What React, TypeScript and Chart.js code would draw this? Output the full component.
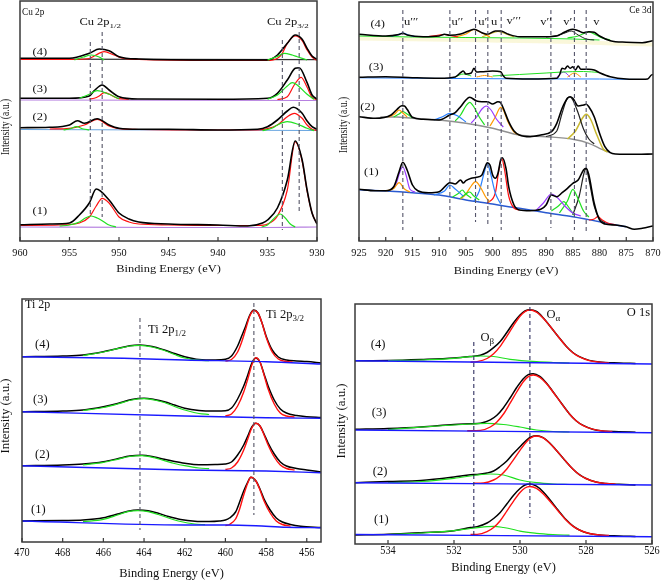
import React, { useEffect, useRef } from 'react';
import { Chart, registerables } from 'chart.js';
Chart.register(...registerables);

type Pt = [number, number];
type Curve = { pts: Pt[]; color: string; width?: number };
type Label = { e: number; i: number; text: string; sub?: string; align?: CanvasTextAlign; size?: number; sx?: number };
type Dash = [number, number, number];

const FONT = '"Liberation Serif", "Times New Roman", serif';
const INK = '#111111';
const BLACK = '#000000';
const RED = '#ff1010';
const GREEN = '#20e020';
const BLUE = '#1a1aff';
const PURPLE = '#b680e0';
const LBLUE = '#6aa6e0';
const ORANGE = '#ff9900';
const VIOLET = '#9a3cff';
const CBLUE = '#2a80ff';
const OLIVE = '#c8b830';
const GREY = '#909090';

// ---------------- Cu 2p ----------------
const CU_TICKS = [960, 955, 950, 945, 940, 935, 930];
const CU1_ENV: Pt[] = [[960,16.3],[957,17],[955,18],[954,26],[953,38],[952.3,52],[951,41],[950,28],[949,22],[948,19],[945,17],[940,16],[937,15],[935.5,18],[935,21],[934,33],[933,61],[932.2,100],[931.5,81],[931,51],[930.5,28],[930,17]];
const CU1_RED: Pt[] = [[960,15.5],[956,16],[954,18],[953,24],[952.3,35],[951.7,42.7],[951,38],[950.5,31],[950,24],[949,19],[948,17],[945,16],[940,15.5],[936,15.5],[935,17],[934,25],[933,51],[932.2,99],[931.5,80],[931,50],[930.5,28],[930,17]];
const CU1_GRN_A: Pt[] = [[956,15],[955,16],[954,19],[953.4,23],[952.8,25],[952.2,23],[951.5,19],[951,16],[950.3,14]];
const CU1_GRN_B: Pt[] = [[935.6,14],[935,16],[934.5,21],[933.7,27],[933.2,23],[932.7,17],[932.2,14]];
const CU1_BASE: Pt[] = [[960,14],[945,13.5],[935,13.5],[930,14]];
const CU2_ENV: Pt[] = [[960,113.3],[957,113.7],[955,116],[954.2,120.3],[953.5,117.7],[952.2,122.3],[951,116],[950,112.7],[948,111.7],[945,111.7],[940,111],[936,111.7],[935,114.3],[934,121],[933,130],[932.4,133.7],[931.5,127.7],[931,120],[930.5,114.3],[930,111.7]];
const CU2_RED: Pt[] = [[957,112],[955,112.7],[953.5,116],[952.2,121.7],[951,115],[950,112.3],[948,111.5],[940,111],[936,111],[935,112.3],[934,116],[933,124.3],[932.3,127.7],[931.5,122.7],[931,116],[930.5,111.7],[930,110.5]];
const CU2_GRN_A: Pt[] = [[955.6,111],[955,112],[954.3,114.3],[953.6,112],[953,111]];
const CU2_GRN_B: Pt[] = [[935.5,110.3],[934.5,113],[934,116],[933,119.3],[932,117],[931,112.7],[930.3,110.3]];
const CU2_BASE: Pt[] = [[960,111.5],[945,111],[930,110.5]];
const CU3_ENV: Pt[] = [[960,142.7],[955,142.7],[953,145],[952.5,150.3],[951.7,156],[951,151],[950,144.3],[948,142],[940,141.7],[935,142.7],[934,147.7],[933,161],[932.2,172.7],[931.8,173.3],[931,158.3],[930.5,146],[930,142]];
const CU3_RED_A: Pt[] = [[953,142],[952.5,142.7],[952,145],[951.5,148.3],[951,147],[950.5,144.3],[950,142.3],[949,141.8]];
const CU3_RED_B: Pt[] = [[934,141.5],[933,144.3],[932.3,156],[931.6,163.7],[931,153.7],[930.5,143.7],[930,141.5]];
const CU3_GRN_A: Pt[] = [[954,142.7],[953,146.7],[952.2,150.3],[951,146.7],[950,142.3]];
const CU3_GRN_B: Pt[] = [[935,141.7],[934,146],[933,155],[932.5,158.3],[932,156],[931,146.7],[930.3,141.7]];
const CU3_BASE: Pt[] = [[960,141],[930,140.5]];
const CU4_ENV: Pt[] = [[960,182.7],[955,182.7],[953,187.7],[952,192],[951,190.3],[950,184.3],[948,182],[940,181],[935,181],[934,186],[933,197.7],[932.2,206],[931.5,201.7],[931,192.7],[930.5,185],[930,181.7]];
const CU4_RED: Pt[] = [[960,181.5],[955,181.5],[953,182.5],[952.5,185],[951.5,189.3],[950.5,186],[949.5,182.5],[948,181.5],[940,180.5],[935,180.5],[934,182.7],[933.5,187.7],[933,197.7],[932.2,205],[931.5,200.3],[931,191],[930.5,184],[930,180.5]];
const CU4_GRN_A: Pt[] = [[954.5,181],[953.6,184],[952.8,186],[952,184],[951.5,181]];
const CU4_GRN_B: Pt[] = [[935,181],[934,184.5],[933.3,187.7],[932.5,186],[932,184.3],[931,181]];
const CU4_BASE: Pt[] = [[960,181.8],[930,181.3]];
const CU_DASHES: Dash[] = [[952.9,199,24],[951.7,209,24],[933.5,201,11],[931.8,209,28]];
const CU_LABELS: Label[] = [
  { e: 959.8, i: 228, text: 'Cu 2p', align: 'left', size: 12.5, sx: 0.74 },
  { e: 954.0, i: 218, text: 'Cu 2p', sub: '1/2', align: 'left' },
  { e: 935.05, i: 218, text: 'Cu 2p', sub: '3/2', align: 'left' },
  { e: 958, i: 188, text: '(4)' }, { e: 958, i: 151, text: '(3)' },
  { e: 958, i: 123, text: '(2)' }, { e: 958, i: 29, text: '(1)' },
];

// ---------------- Ce 3d ----------------
const CE_TICKS = [925, 920, 915, 910, 905, 900, 895, 890, 885, 880, 875, 870];
const CE1_ENV: Pt[] = [[925,51.7],[922,50.3],[920,50.3],[918.5,54.3],[917.5,69.3],[916.8,78.7],[916,71],[915,56],[914,50.3],[912,48.3],[910,49.3],[908.5,56.7],[908,58.3],[907,57],[906,61],[905.5,58],[905,60.3],[904,62.7],[903,63.7],[902,66],[901.5,72.7],[901,78.3],[900.5,76],[900,66],[899.5,62.7],[899,67.7],[898.5,81],[898.2,83.3],[897.5,72.7],[897,54.3],[896,36],[895,31],[893,30.3],[891,31.7],[890,36],[889,46],[888,44.3],[887,48.3],[886,52.7],[885,57.7],[884,61],[883,71],[882.5,72.7],[882,66],[881,37.7],[880,21],[879,17],[877,16],[875,14.3],[873.5,11.7],[872,12.7],[870,15]];
const CE1_BASE: Pt[] = [[925,51.2],[920,50],[915,48.3],[910,46],[905,41],[900,37],[897,34.3],[893,31],[890,28.3],[885,24.3],[880,19.3],[877,16],[875,14.3]];
const CE1_C1: Pt[] = [[920,50],[918.5,52.5],[917.5,58.3],[916.5,52],[915.5,49]];
const CE1_C2: Pt[] = [[919,51],[918,58],[917.3,70],[916.8,74],[916.2,66],[915.5,52],[914.5,49]];
const CE1_C3: Pt[] = [[911,46],[909,50],[908,56],[907,52],[905.5,45]];
const CE1_C4: Pt[] = [[907.5,44],[906.3,48],[905.7,51],[905,47],[904,43]];
const CE1_C5: Pt[] = [[906,43],[905,47],[904.3,49],[903.5,45],[902.5,41]];
const CE1_C6: Pt[] = [[906,42],[905,47],[904,55],[903.2,59.3],[902.3,54],[901.3,44],[900.5,39]];
const CE1_C7: Pt[] = [[903.5,40],[902.5,50],[901.5,70],[901,77.7],[900.5,70],[899.5,48],[898.5,37]];
const CE1_C8: Pt[] = [[901,38],[899.5,48],[898.8,72],[898.3,82.7],[897.8,72],[897,45],[896,33],[895,31]];
const CE1_C9: Pt[] = [[892,30],[890.5,38],[889,47],[888,44],[886.5,35],[885,28],[883.5,25]];
const CE1_C10: Pt[] = [[889,30],[887.7,35],[886.7,39.3],[885.8,34],[884.8,26]];
const CE1_C11: Pt[] = [[887.5,28],[886,40],[885,51.7],[884,42],[883,30],[882,24]];
const CE1_C12: Pt[] = [[885,26],[883.8,45],[882.8,70],[882.5,72],[882,62],[881,35],[880,22],[879,18]];
const CE1_C13: Pt[] = [[882,21],[881,22],[880.3,24.3],[879.5,21],[878.5,18],[877,16]];
const CE2_ENV: Pt[] = [[925,124.3],[922,122.7],[919,126],[918,131],[917,135.3],[916.5,135],[916,131.7],[915,123.7],[913,121.7],[910,121],[908,126],[907,128.3],[906,134.3],[905,141],[904.3,143.7],[903,140],[902,139.3],[901,139.3],[900,137],[899,139.3],[898.5,138.3],[898,132.7],[897,119.3],[896,110],[895,106],[893,104.3],[891,106],[889,109.3],[888,117.7],[887,132.7],[886,142.7],[885.5,144.3],[885,142.7],[884,135],[883,136],[882.5,136.7],[882,134.3],[881,124.3],[880,107.7],[879,94.3],[878,88.3],[877,87],[873,86.7],[870,87]];
const CE2_BASE: Pt[] = [[921,124],[918,124],[915,122.7],[910,121],[905,117.7],[900,112.7],[895,106],[890,104.3],[885,101.7],[882,97.7],[880,92.7],[878,88.3]];
const CE2_C1: Pt[] = [[919.5,124],[918.3,127],[917.5,131],[916.8,128],[916,124]];
const CE2_C2: Pt[] = [[918.5,124],[917.5,127],[916.8,129.3],[916,127],[915,123]];
const CE2_C3: Pt[] = [[911,121],[909.5,124],[908,127.7],[906.5,125],[905,119]];
const CE2_C4: Pt[] = [[907,120],[906,126],[905,135],[904.3,138.7],[903.5,134],[902.5,124],[901.5,116]];
const CE2_C5: Pt[] = [[904,118],[903,124],[902,132],[901.2,135],[900.3,131],[899.3,122],[898,114]];
const CE2_C6: Pt[] = [[900.5,115],[899.5,124],[898.8,132],[898.5,133.7],[898,131],[897.2,120],[896,109],[895,106]];
const CE2_C7: Pt[] = [[890,104.5],[888,110],[887,128],[886,143],[885.5,144],[885,141],[884,128],[883,112],[882,102],[881,97]];
const CE2_C8: Pt[] = [[886,102],[884.5,110],[883.3,122],[882.5,126.7],[881.7,122],[880.5,106],[879.3,92],[878.5,89]];
const CE3_ENV: Pt[] = [[925,163.7],[920,164.3],[915,163.3],[910,162.7],[907,164],[906,168.3],[905.5,170],[905,167],[904,168],[903.5,172.7],[903,169],[902,169.3],[900,170],[898.5,169.3],[898,165],[897.5,162.7],[893,162],[888,162.7],[887.5,166],[887,172.7],[886.5,172],[886,175],[885.5,172.7],[885,174.3],[884.5,171],[884,175],[883.5,171.7],[882,171.7],[881,171],[880,168.3],[878,164.3],[875,162],[872,161.7],[871,162],[870.3,166],[870,166.5]];
const CE3_BASE: Pt[] = [[925,163.2],[910,162.6],[897,162.2],[880,162],[872,161.5]];
const CE3_C1: Pt[] = [[900,165],[895,166.5],[890,168],[887,169],[883,169.5],[880,168.5]];
const CE3_C2: Pt[] = [[903,164],[901.5,165.5],[900,164]];
const CE3_C3: Pt[] = [[907,164],[905.5,167],[904,165]];
const CE3_C4: Pt[] = [[888,164],[886.7,169],[885.5,164]];
const CE3_C5: Pt[] = [[886,164],[884.7,168],[883.5,164]];
const CE4_ENV: Pt[] = [[925,206.7],[920,205],[917.5,206.5],[916.8,207.7],[916,206],[913,204.3],[910,205],[909,206.7],[908,205.7],[906,207],[904,211],[903.5,211.7],[902,208.3],[901,206.7],[899.5,210],[898.5,210],[897,206.7],[895,204.3],[890,204.3],[888,205],[887,207.7],[886,210.3],[885,211.7],[884,210.3],[883,208.3],[882,209.3],[881,208.7],[880,205],[878,200.3],[875,198.7],[872,198.3],[870,200.3]];
const CE4_BAND: Pt[] = [[925,202.5],[915,201.8],[905,201],[895,200],[885,199],[875,197],[870,196.5]];
const CE4_BASE: Pt[] = [[925,205],[915,204],[905,203.5],[895,203],[885,202],[880,201]];
const CE4_C1: Pt[] = [[919,205],[917.8,206],[916.8,208],[915.8,206],[914.5,204.5]];
const CE4_C2: Pt[] = [[912,204.5],[910,206],[909,206.5],[908,205.5],[906.5,204]];
const CE4_C3: Pt[] = [[907,204],[905,207],[903.5,211.5],[902,208],[900.5,204]];
const CE4_C4: Pt[] = [[902,204],[900.5,207],[899,209.5],[897.5,207],[896,204]];
const CE4_C5: Pt[] = [[890,204],[887.5,206],[886,209],[885.3,210],[884,206],[882.5,202],[881,201]];
const CE4_C6: Pt[] = [[886,203],[884,205],[882.5,208.5],[882,209],[881,207],[879.5,203],[878,201]];
const CE_DASHES: Dash[] = [[916.8,231,11],[908.0,231,9],[903.2,231,19],[900.9,231,14],[898.4,231,11],[889.1,231,13],[884.7,231,11],[882.5,231,9]];
const CE_LABELS: Label[] = [
  { e: 870.3, i: 230, text: 'Ce 3d', align: 'right', size: 12.5, sx: 0.75 },
  { e: 921.5, i: 216, text: '(4)' }, { e: 921.8, i: 173, text: '(3)' },
  { e: 923.4, i: 133, text: '(2)' }, { e: 922.7, i: 68, text: '(1)' },
  { e: 916.6, i: 218, text: 'u\u2032\u2032\u2032', align: 'left' },
  { e: 907.7, i: 218, text: 'u\u2032\u2032', align: 'left' },
  { e: 902.7, i: 218, text: 'u\u2032', align: 'left' },
  { e: 900.3, i: 218, text: 'u', align: 'left' },
  { e: 897.4, i: 219, text: 'v\u2032\u2032\u2032', align: 'left' },
  { e: 891.1, i: 218, text: 'v\u2032\u2032', align: 'left' },
  { e: 886.8, i: 218, text: 'v\u2032', align: 'left' },
  { e: 881.2, i: 218, text: 'v', align: 'left' },
];

// ---------------- Ti 2p ----------------
const TI_TICKS = [470, 468, 466, 464, 462, 460, 458, 456];
const TI1_ENV: Pt[] = [[470,21],[468,21.5],[467,22],[466,24.3],[465.3,28],[464.8,30.8],[464.3,32],[463.8,31.3],[463.3,28.7],[462.8,25.5],[462.2,22.5],[461.5,20.8],[460.8,20.5],[460.3,21],[460,22],[459.8,24],[459.5,30],[459.3,40],[459.1,51],[458.9,60],[458.75,64.7],[458.5,61],[458.3,53],[458.1,43],[457.8,32],[457.5,24],[457.2,20],[456.8,17.5],[456.3,15.8],[455.3,14.5]];
const TI1_GRN: Pt[] = [[467,20.3],[466,22.7],[465.3,27],[464.8,30.3],[464.3,31.3],[463.8,30.3],[463.3,27.5],[462.8,24],[462.2,20.5],[461.5,18],[461,17.3]];
const TI1_RED: Pt[] = [[460,16.5],[459.8,17.5],[459.5,23],[459.3,33],[459.1,47],[458.9,59],[458.75,64.7],[458.5,61],[458.3,52],[458.1,41],[457.8,29],[457.5,21],[457.2,17.5],[456.8,16]];
const TI1_BASE: Pt[] = [[470,21],[462,17],[460,17],[458.5,16.3],[457,14.7],[455.3,14.3]];
const TI2_ENV: Pt[] = [[470,76.3],[468,77],[467,78],[466,80.3],[465.3,83.3],[464.7,86],[464.1,86.7],[463.5,85],[463,82.7],[462.5,80.5],[462,78.7],[461.3,77.3],[460.5,77.5],[460,78],[459.7,80],[459.4,87],[459.1,97],[458.9,106],[458.7,115],[458.5,118.7],[458.3,116],[458.1,108],[457.9,99],[457.6,88],[457.3,80],[457,76],[456.5,73.5],[456,72],[455.3,70]];
const TI2_GRN: Pt[] = [[467,77],[466,79.7],[465.3,82.7],[464.7,85.5],[464.1,86.3],[463.5,84.3],[463,81.3],[462.5,78.5],[462,76.3],[461.3,74],[460.8,73.3]];
const TI2_RED: Pt[] = [[460,72.5],[459.7,74],[459.4,80],[459.1,92],[458.9,103],[458.7,114],[458.5,118.7],[458.3,116],[458.1,107],[457.9,97],[457.6,85],[457.3,77],[457,73.5],[456.6,72]];
const TI2_BASE: Pt[] = [[470,76.3],[462,72],[458,71],[455.3,69.3]];
const TI3_ENV: Pt[] = [[470,130.3],[468,131],[467,132],[466,135.3],[465.3,138.5],[464.6,142.5],[464,143.7],[463.5,142.5],[463,140.3],[462.5,137],[462,133.7],[461.3,131.5],[460.5,131],[460,131.3],[459.7,134],[459.4,143],[459.1,156],[458.9,167],[458.7,179],[458.5,184],[458.3,180],[458.1,168],[457.9,156],[457.6,142],[457.3,133],[457,129],[456.5,126.5],[456,125.3],[455.3,124.5]];
const TI3_GRN: Pt[] = [[467,131.5],[466,134.5],[465.3,138],[464.6,142],[464,143.3],[463.5,142],[463,139.5],[462.5,135.5],[462,132],[461.3,128.5],[460.8,127.5]];
const TI3_RED: Pt[] = [[460,126],[459.7,128],[459.4,136],[459.1,150],[458.9,163],[458.7,177],[458.5,184.3],[458.3,180],[458.1,167],[457.9,153],[457.6,138],[457.3,129],[457,126],[456.6,125]];
const TI3_BASE: Pt[] = [[470,130.3],[462,126],[458,124.3],[455.3,123.7]];
const TI4_ENV: Pt[] = [[470,185.3],[468,186],[467,187],[466,190.3],[465.3,193.5],[464.7,196.3],[464.2,197],[463.6,195.5],[463,192],[462.5,188.5],[462,185.3],[461.3,182.5],[460.5,182],[460,182.7],[459.7,186],[459.4,196],[459.2,206],[459,216],[458.8,227],[458.6,232],[458.4,229],[458.2,219],[458,206],[457.7,192],[457.4,185],[457,182],[456.5,181],[456,180.5],[455.3,179]];
const TI4_GRN: Pt[] = [[467,186.5],[466,190],[465.3,193.3],[464.7,196],[464.2,196.7],[463.6,195],[463,191.5],[462.5,187.5],[462,184],[461.3,181.8],[460.8,181.3]];
const TI4_RED: Pt[] = [[460,181],[459.7,182.5],[459.4,190],[459.2,200],[459,213],[458.8,226],[458.6,231.5],[458.4,229],[458.2,219],[458,205],[457.7,190],[457.4,183],[457,180.5],[456.7,180]];
const TI4_BASE: Pt[] = [[470,185.3],[465,183.7],[462,182],[458,180.3],[455.3,178]];
const TI_DASHES: Dash[] = [[464.2,224,12],[458.6,239,27]];
const TI_LABELS: Label[] = [
  { e: 469.85, i: 237, text: 'Ti 2p', align: 'left', size: 12 },
  { e: 463.8, i: 212, text: 'Ti 2p', sub: '1/2', align: 'left' },
  { e: 458.0, i: 227, text: 'Ti 2p', sub: '3/2', align: 'left' },
  { e: 469, i: 197, text: '(4)' }, { e: 469.1, i: 142, text: '(3)' },
  { e: 469, i: 87, text: '(2)' }, { e: 469.2, i: 32, text: '(1)' },
];

// ---------------- O 1s ----------------
const O_TICKS = [534, 532, 530, 528, 526];
const O1_ENV: Pt[] = [[535,9],[534,9.7],[533,11.3],[532,13.3],[531.5,16.5],[531.3,17.3],[531,21],[530.8,25.5],[530.6,31.5],[530.4,40],[530.2,48.5],[530,55.5],[529.85,59],[529.7,60],[529.5,57.8],[529.3,52.3],[529.1,44.6],[528.85,34],[528.6,24.2],[528.4,18.1],[528.2,14],[527.9,10.5],[527.6,9],[527,8],[526.5,7.5]];
const O1_RED: Pt[] = [[531.5,9.5],[531.3,9.6],[531,12.3],[530.8,16.5],[530.6,23.3],[530.4,32.8],[530.2,42.7],[530,51.5],[529.85,56],[529.7,57.5],[529.5,55.6],[529.3,50.3],[529.1,43],[528.85,33.3],[528.6,23.8],[528.4,17.9],[528.2,14],[527.9,10.5],[527.6,9],[527.3,8.5]];
const O1_GRN: Pt[] = [[534,9.5],[533,11],[532,13.3],[531.5,15.5],[531,17.3],[530.8,17.7],[530.5,16.5],[530.2,14.5],[530,12.8],[529.5,10.7],[529,9.5],[528.5,8.8]];
const O1_BASE: Pt[] = [[535,9.5],[526,7.3]];
const O2_ENV: Pt[] = [[535,61.3],[534,62.5],[533,63.5],[532,67],[531.5,69.3],[531.3,69.6],[531,71],[530.8,73],[530.6,77.5],[530.4,83],[530.2,90.5],[530,97.2],[529.8,104],[529.65,107.3],[529.5,108.3],[529.3,106.3],[529.1,101],[528.9,93.7],[528.65,84.1],[528.4,75],[528.2,69.3],[528,65.5],[527.7,62],[527.4,60.5],[527,59.7],[526.5,59]];
const O2_RED: Pt[] = [[531.4,60.8],[531.1,61.1],[530.8,64],[530.6,68.3],[530.4,75],[530.2,84.1],[530,93.7],[529.8,102.3],[529.65,106.6],[529.5,108],[529.3,106.1],[529.1,100.8],[528.9,93.7],[528.65,84.1],[528.4,75],[528.2,69.3],[528,65.5],[527.7,62],[527.4,60.5],[527.1,59.8]];
const O2_GRN: Pt[] = [[534,61.5],[533,62.5],[532,65.7],[531.3,69],[530.9,70],[530.5,69],[530,64],[529.5,61.3],[529,60],[528.5,59.5]];
const O2_BASE: Pt[] = [[535,61.3],[526,59]];
const O3_ENV: Pt[] = [[535,114.7],[534,115.5],[533,117],[532,119.5],[531.5,120.2],[531.2,120.8],[530.9,124.2],[530.7,128.8],[530.5,136.3],[530.3,146],[530.1,156.5],[529.9,165.3],[529.75,169.3],[529.6,170.3],[529.4,167.6],[529.2,161],[529,152.3],[528.75,141],[528.5,130.1],[528.3,123.3],[528.1,118.8],[527.8,114.8],[527.5,113],[527,112.3],[526.5,111.8]];
const O3_RED: Pt[] = [[531.6,113.2],[531.2,113.6],[530.9,117],[530.7,122.1],[530.5,130],[530.3,140.8],[530.1,152],[529.9,162.2],[529.75,167.3],[529.6,169],[529.4,166.7],[529.2,160.5],[529,152],[528.75,140.8],[528.5,130],[528.3,123.2],[528.1,118.7],[527.8,114.8],[527.5,113],[527.2,112.5]];
const O3_GRN: Pt[] = [[534,114.5],[533.5,115.7],[532.5,118],[531.5,120],[531,120.7],[530.5,119.5],[530,117],[529.5,114],[529,112.5],[528.5,112]];
const O3_BASE: Pt[] = [[535,114],[526,111.3]];
const O4_ENV: Pt[] = [[535,183.3],[534,183.5],[533,184.5],[532,186],[531.5,187.6],[531.2,188.8],[531,191.5],[530.8,196.3],[530.6,202.5],[530.4,211.5],[530.2,221],[530,229],[529.85,233],[529.7,234.3],[529.5,232.5],[529.3,226.3],[529.1,218.3],[528.85,207.8],[528.6,197.8],[528.4,191.5],[528.2,187.3],[527.9,183.6],[527.6,182],[527,181],[526.5,180.5]];
const O4_RED: Pt[] = [[531.5,181.8],[531.3,182.4],[531,185.5],[530.8,190.3],[530.6,197.6],[530.4,207.7],[530.2,218.2],[530,227.7],[529.85,232.4],[529.7,234],[529.5,231.9],[529.3,226.1],[529.1,218.2],[528.85,207.7],[528.6,197.6],[528.4,191.3],[528.2,187.1],[527.9,183.4],[527.6,181.8],[527.3,181]];
const O4_GRN: Pt[] = [[534,183.5],[533,184],[532,185.7],[531.5,187.3],[531.2,188],[530.8,187.5],[530.3,184.7],[529.5,182.3],[529,181.5],[528.5,181]];
const O4_BASE: Pt[] = [[535,183.3],[526,180]];
const O_DASHES: Dash[] = [[531.4,202,9],[529.7,237,26]];
const O_LABELS: Label[] = [
  { e: 526.06, i: 231, text: 'O 1s', align: 'right' },
  { e: 529.2, i: 229, text: 'O', sub: '\u03b1', align: 'left' },
  { e: 531.2, i: 206, text: 'O', sub: '\u03b2', align: 'left' },
  { e: 534.3, i: 199, text: '(4)' }, { e: 534.27, i: 131, text: '(3)' },
  { e: 534.24, i: 72, text: '(2)' }, { e: 534.2, i: 24, text: '(1)' },
];

// ---------------- panels ----------------
interface Panel {
  box: { left: number; top: number; width: number; height: number };
  pad: { left: number; top: number; right: number; bottom: number };
  xMin: number; xMax: number; yMax: number;
  ticks: number[];
  tickDy: number; titleDy: number; yTitleDx: number; yTitleY: number; sy: number;
  curves: Curve[];
  dashes: Dash[]; dashColor: string;
  labels: Label[];
}

const c = (pts: Pt[], color: string, width = 1.2): Curve => ({ pts, color, width });

const PANELS: Panel[] = [
  {
    box: { left: 0, top: 0, width: 331, height: 290 },
    pad: { left: 20, top: 1, right: 14, bottom: 49 },
    xMin: 930, xMax: 960, yMax: 240, ticks: CU_TICKS,
    tickDy: 13, titleDy: 28, yTitleDx: 14, yTitleY: 127, sy: 0.75,
    dashes: CU_DASHES, dashColor: '#555566', labels: CU_LABELS,
    curves: [
      c(CU4_GRN_A, GREEN), c(CU4_GRN_B, GREEN), c(CU3_GRN_A, GREEN), c(CU3_GRN_B, GREEN),
      c(CU2_GRN_A, GREEN), c(CU2_GRN_B, GREEN), c(CU1_GRN_A, GREEN), c(CU1_GRN_B, GREEN),
      c(CU4_ENV, BLACK, 1.6), c(CU3_ENV, BLACK, 1.6), c(CU2_ENV, BLACK, 1.6), c(CU1_ENV, BLACK, 1.6),
      c(CU4_RED, RED), c(CU3_RED_A, RED), c(CU3_RED_B, RED), c(CU2_RED, RED), c(CU1_RED, RED),
      c(CU4_BASE, '#333333', 1.2), c(CU3_BASE, PURPLE), c(CU2_BASE, LBLUE), c(CU1_BASE, PURPLE),
    ],
  },
  {
    box: { left: 331, top: 0, width: 331, height: 290 },
    pad: { left: 28, top: 2, right: 9, bottom: 49 },
    xMin: 870, xMax: 925, yMax: 239, ticks: CE_TICKS,
    tickDy: 13, titleDy: 30, yTitleDx: 15, yTitleY: 125, sy: 0.75,
    dashes: CE_DASHES, dashColor: '#55556a', labels: CE_LABELS,
    curves: [
      c(CE4_ENV, BLACK, 1.5), c(CE3_ENV, BLACK, 1.5), c(CE2_ENV, BLACK, 1.6), c(CE1_ENV, BLACK, 1.6),
      c(CE4_C1, CBLUE), c(CE4_C2, RED), c(CE4_C3, ORANGE), c(CE4_C4, OLIVE), c(CE4_C5, '#222222', 1), c(CE4_C6, GREEN),
      c(CE4_BASE, GREEN, 1), c(CE4_BAND, 'rgba(240,232,150,0.35)', 4),
      c(CE3_C1, GREEN, 1), c(CE3_C2, ORANGE, 1), c(CE3_C3, GREEN, 1), c(CE3_C4, VIOLET, 1), c(CE3_C5, ORANGE, 1), c(CE3_BASE, CBLUE, 1),
      c(CE2_C1, ORANGE), c(CE2_C2, GREEN), c(CE2_C3, CBLUE), c(CE2_C4, GREEN), c(CE2_C5, VIOLET), c(CE2_C6, ORANGE),
      c(CE2_C7, '#222222'), c(CE2_C8, OLIVE, 1.5), c(CE2_BASE, GREY, 1.4),
      c(CE1_C1, ORANGE), c(CE1_C2, VIOLET), c(CE1_C3, CBLUE), c(CE1_C4, GREEN), c(CE1_C5, GREEN), c(CE1_C6, ORANGE),
      c(CE1_C7, CBLUE), c(CE1_C8, RED), c(CE1_C9, VIOLET), c(CE1_C10, GREEN), c(CE1_C11, GREEN), c(CE1_C12, '#222222'),
      c(CE1_C13, RED), c(CE1_BASE, '#2a5ad0', 1.5),
    ],
  },
  {
    box: { left: 0, top: 290, width: 331, height: 292 },
    pad: { left: 22, top: 9, right: 10, bottom: 40 },
    xMin: 455.3, xMax: 470, yMax: 243, ticks: TI_TICKS,
    tickDy: 11, titleDy: 31, yTitleDx: 16, yTitleY: 126, sy: 1,
    dashes: TI_DASHES, dashColor: '#555566', labels: TI_LABELS,
    curves: [
      c(TI4_BASE, BLUE, 1.4), c(TI3_BASE, BLUE, 1.4), c(TI2_BASE, BLUE, 1.4), c(TI1_BASE, BLUE, 1.4),
      c(TI4_GRN, GREEN), c(TI3_GRN, GREEN), c(TI2_GRN, GREEN), c(TI1_GRN, GREEN),
      c(TI4_RED, RED, 1.4), c(TI3_RED, RED, 1.4), c(TI2_RED, RED, 1.4), c(TI1_RED, RED, 1.4),
      c(TI4_ENV, BLACK, 1.5), c(TI3_ENV, BLACK, 1.5), c(TI2_ENV, BLACK, 1.5), c(TI1_ENV, BLACK, 1.5),
    ],
  },
  {
    box: { left: 331, top: 290, width: 331, height: 292 },
    pad: { left: 24, top: 14, right: 10, bottom: 38 },
    xMin: 526, xMax: 535, yMax: 240, ticks: O_TICKS,
    tickDy: 7, titleDy: 23, yTitleDx: 13, yTitleY: 131, sy: 1,
    dashes: O_DASHES, dashColor: '#303060', labels: O_LABELS,
    curves: [
      c(O4_BASE, BLUE, 1.4), c(O3_BASE, BLUE, 1.4), c(O2_BASE, BLUE, 1.4), c(O1_BASE, BLUE, 1.4),
      c(O4_RED, RED, 1.4), c(O3_RED, RED, 1.4), c(O2_RED, RED, 1.4), c(O1_RED, RED, 1.4),
      c(O4_GRN, GREEN), c(O3_GRN, GREEN), c(O2_GRN, GREEN), c(O1_GRN, GREEN),
      c(O4_ENV, BLACK, 1.5), c(O3_ENV, BLACK, 1.5), c(O2_ENV, BLACK, 1.5), c(O1_ENV, BLACK, 1.5),
    ],
  },
];

function drawText(ctx: CanvasRenderingContext2D, txt: string, x: number, y: number, sy: number,
  align: CanvasTextAlign, size: number, sub?: string, sx = 1) {
  ctx.save();
  ctx.translate(x, y);
  ctx.scale(sx, sy);
  ctx.fillStyle = INK;
  ctx.textBaseline = 'middle';
  ctx.font = `${size}px ${FONT}`;
  const w = ctx.measureText(txt).width;
  let sw = 0;
  if (sub) {
    ctx.font = `${size * 0.72}px ${FONT}`;
    sw = ctx.measureText(sub).width;
    ctx.font = `${size}px ${FONT}`;
  }
  let x0 = 0;
  if (align === 'center') x0 = -(w + sw) / 2;
  else if (align === 'right') x0 = -(w + sw);
  ctx.textAlign = 'left';
  ctx.fillText(txt, x0, 0);
  if (sub) {
    ctx.font = `${size * 0.72}px ${FONT}`;
    ctx.fillText(sub, x0 + w, size * 0.32);
  }
  ctx.restore();
}

function decor(p: Panel) {
  return {
    id: 'decor',
    afterDatasetsDraw(chart: any) {
      const ctx: CanvasRenderingContext2D = chart.ctx;
      const a = chart.chartArea;
      const xs = chart.scales.x;
      const ys = chart.scales.y;
      ctx.save();
      ctx.strokeStyle = '#3a3a3a';
      ctx.lineWidth = 1.5;
      ctx.strokeRect(a.left, a.top, a.right - a.left, a.bottom - a.top);
      ctx.lineWidth = 1.2;
      for (const t of p.ticks) {
        const x = xs.getPixelForValue(t);
        ctx.beginPath();
        ctx.moveTo(x, a.bottom);
        ctx.lineTo(x, a.bottom - 4);
        ctx.stroke();
        drawText(ctx, String(t), x, a.bottom + p.tickDy, p.sy, 'center', 12.5, undefined, 0.82);
      }
      drawText(ctx, 'Binding Energy (eV)', (a.left + a.right) / 2, a.bottom + p.titleDy, p.sy, 'center', 13.5, undefined, 0.92);
      ctx.save();
      ctx.translate(a.left - p.yTitleDx, p.yTitleY);
      ctx.rotate(-Math.PI / 2);
      ctx.scale(p.sy, 1);
      ctx.fillStyle = INK;
      ctx.font = `12.8px ${FONT}`;
      ctx.textAlign = 'center';
      ctx.textBaseline = 'middle';
      ctx.fillText('Intensity (a.u.)', 0, 0);
      ctx.restore();
      for (const l of p.labels) {
        drawText(ctx, l.text, xs.getPixelForValue(l.e), ys.getPixelForValue(l.i), p.sy, l.align || 'center', l.size || 12.5, l.sub, l.sx || 1);
      }
      ctx.restore();
    },
  };
}

function PanelChart({ p }: { p: Panel }) {
  const ref = useRef<HTMLCanvasElement>(null);
  useEffect(() => {
    const datasets: any[] = [];
    for (const d of p.dashes) {
      datasets.push({
        data: [{ x: d[0], y: d[1] }, { x: d[0], y: d[2] }],
        borderColor: p.dashColor, borderWidth: 1.1, borderDash: [4, 3],
        pointRadius: 0, tension: 0, fill: false,
      });
    }
    for (const cv of p.curves) {
      datasets.push({
        data: cv.pts.map(([x, y]) => ({ x, y })),
        borderColor: cv.color, borderWidth: cv.width,
        pointRadius: 0, cubicInterpolationMode: 'monotone', fill: false,
      });
    }
    const chart = new Chart(ref.current as HTMLCanvasElement, {
      type: 'line',
      data: { datasets },
      options: {
        responsive: false,
        animation: false,
        devicePixelRatio: 1,
        layout: { padding: p.pad },
        plugins: { legend: { display: false }, tooltip: { enabled: false } },
        scales: {
          x: { type: 'linear', reverse: true, min: p.xMin, max: p.xMax, display: false },
          y: { type: 'linear', min: 0, max: p.yMax, display: false },
        },
      },
      plugins: [decor(p)],
    } as any);
    return () => chart.destroy();
  }, [p]);
  return (
    <canvas
      ref={ref}
      width={p.box.width}
      height={p.box.height}
      style={{ position: 'absolute', left: p.box.left, top: p.box.top, width: p.box.width, height: p.box.height }}
    />
  );
}

export default function App() {
  return (
    <div style={{ position: 'absolute', left: 0, top: 0, width: 662, height: 582, background: '#fff' }}>
      {PANELS.map((p, i) => <PanelChart key={i} p={p} />)}
    </div>
  );
}
